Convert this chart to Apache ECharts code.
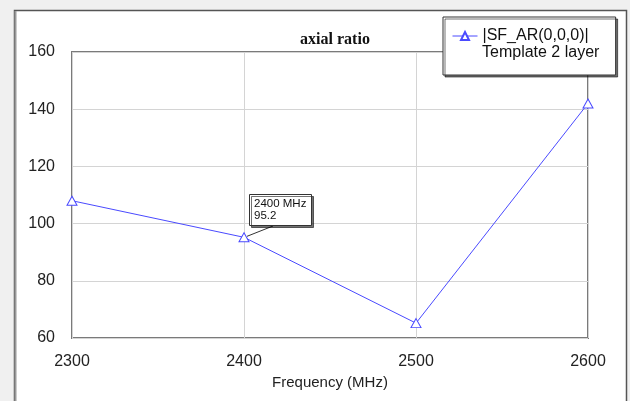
<!DOCTYPE html>
<html>
<head>
<meta charset="utf-8">
<script src="https://cdn.jsdelivr.net/npm/echarts@6/dist/echarts.min.js"></script>
<style>
  html, body { margin: 0; padding: 0; background: #f0f0f0; }
  #chart { width: 630px; height: 401px; }
</style>
</head>
<body>
<div id="chart"></div>
<script>
// Axial ratio sweep over frequency
const frequencies = [2300, 2400, 2500, 2600];
const axialRatio = [108.0, 95.2, 65.2, 142.0];
const xTicks = [2300, 2400, 2500, 2600];
const yTicks = [60, 80, 100, 120, 140, 160];
const seriesName = '|SF_AR(0,0,0)|';
const seriesSubtitle = 'Template 2 layer';
const markedIndex = 1; // point annotated with a callout
const chartTitle = 'axial ratio';
const xAxisName = 'Frequency (MHz)';

const lineColor = '#4a4aff';
const sansFont = '"Liberation Sans", Arial, sans-serif';

const chart = echarts.init(document.getElementById('chart'), null, { renderer: 'canvas' });

const option = {
  backgroundColor: '#f0f0f0',
  animation: false,
  title: {
    text: chartTitle,
    left: 330,
    top: 27,
    textAlign: 'center',
    textStyle: { fontFamily: '"Liberation Serif", "Times New Roman", serif', fontWeight: 'bold', fontSize: 16, color: '#111' }
  },
  grid: {
    left: 72, top: 52, right: 42, bottom: 63,
    show: true, backgroundColor: '#fff', borderColor: '#7a7a7a', borderWidth: 2
  },
  legend: {
    data: [seriesName],
    left: 443, top: 17,
    padding: [11, 27, 31, 9],
    itemWidth: 25, itemHeight: 10, itemGap: 5,
    backgroundColor: '#fff',
    borderColor: '#333', borderWidth: 1,
    shadowColor: 'rgba(0,0,0,0.55)', shadowOffsetX: 2, shadowOffsetY: 2, shadowBlur: 0,
    lineStyle: { width: 1 },
    textStyle: { fontFamily: sansFont, fontSize: 16, color: '#111' }
  },
  xAxis: {
    type: 'value',
    min: xTicks[0], max: xTicks[xTicks.length - 1], interval: xTicks[1] - xTicks[0],
    name: xAxisName, nameLocation: 'middle', nameGap: 36,
    nameTextStyle: { fontFamily: sansFont, fontSize: 15, color: '#222' },
    axisLine: { show: false }, axisTick: { show: false },
    axisLabel: { margin: 16, fontFamily: sansFont, fontSize: 16, color: '#222', formatter: v => String(v) },
    splitLine: { show: true, lineStyle: { color: '#d4d4d4', width: 1 } }
  },
  yAxis: {
    type: 'value',
    min: yTicks[0], max: yTicks[yTicks.length - 1], interval: yTicks[1] - yTicks[0],
    axisLine: { show: false }, axisTick: { show: false },
    axisLabel: { margin: 17, fontFamily: sansFont, fontSize: 16, color: '#222', formatter: v => String(v) },
    splitLine: { show: true, lineStyle: { color: '#d4d4d4', width: 1 } }
  },
  series: [{
    name: seriesName,
    type: 'line',
    data: frequencies.map((f, i) => [f, axialRatio[i]]),
    symbol: 'triangle',
    symbolSize: [10, 9],
    showAllSymbol: true,
    clip: true,
    lineStyle: { color: lineColor, width: 1 },
    itemStyle: { color: '#fff', borderColor: lineColor, borderWidth: 1 },
    z: 3
  }]
};

chart.setOption(option);

// Frame, second legend line and the value callout are placed from the axes
function drawOverlay() {
  const pt = chart.convertToPixel({ gridIndex: 0 }, [frequencies[markedIndex], axialRatio[markedIndex]]);
  const boxX = Math.round(pt[0]) + 5, boxY = Math.round(pt[1]) - 43, boxW = 62, boxH = 31;
  chart.setOption({
    graphic: [
      {
        type: 'rect', z: -10, silent: true,
        shape: { x: 14.5, y: 10.5, width: 612, height: 400 },
        style: { fill: '#fff', stroke: '#555', lineWidth: 1.5 }
      },
      {
        type: 'line', z: -9, silent: true,
        shape: { x1: 15.5, y1: 11, x2: 15.5, y2: 401 },
        style: { stroke: '#9a9a9a', lineWidth: 2 }
      },
      {
        type: 'text', z: 10, silent: true,
        x: 482, y: 53,
        style: { text: seriesSubtitle, font: '16px ' + sansFont, fill: '#111', verticalAlign: 'middle' }
      },
      {
        type: 'line', z: 10, silent: true,
        shape: { x1: pt[0] + 3, y1: pt[1] - 1, x2: boxX + 24, y2: boxY + boxH + 1 },
        style: { stroke: '#333', lineWidth: 1 }
      },
      {
        type: 'rect', z: 10, silent: true,
        shape: { x: boxX + 0.5, y: boxY + 0.5, width: boxW, height: boxH },
        style: { fill: '#fff', stroke: '#333', lineWidth: 1, shadowColor: 'rgba(0,0,0,0.55)', shadowOffsetX: 2, shadowOffsetY: 2, shadowBlur: 0 }
      },
      {
        type: 'text', z: 11, silent: true,
        x: boxX + 5, y: boxY + 4,
        style: {
          text: frequencies[markedIndex] + ' MHz\n' + axialRatio[markedIndex].toFixed(1),
          font: '11.5px ' + sansFont, fill: '#111', lineHeight: 12
        }
      }
    ]
  });
}
drawOverlay();
</script>
</body>
</html>
